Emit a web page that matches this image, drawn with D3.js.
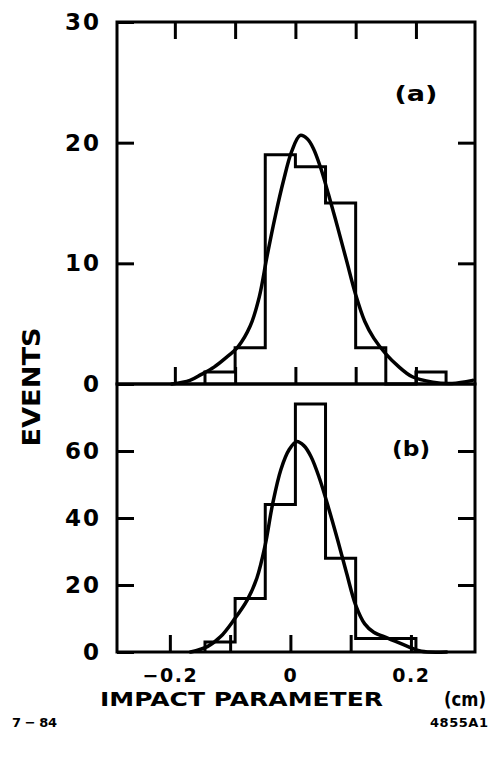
<!DOCTYPE html>
<html>
<head>
<meta charset="utf-8">
<script src="https://cdn.jsdelivr.net/npm/d3@7"></script>
<style>
	body { margin: 0; background: #fff; }
	text { font-family: "DejaVu Sans", sans-serif; font-weight: bold; fill: #000; }
</style>
</head>
<body>
<div id="container"></div>
<script>
// bin edges start at -0.15, width 0.05
var binStart = -0.15,
	binWidth = 0.05;

// histogram counts (a) and (b)
var countsA = [1, 3, 19, 18, 15, 3, 0, 1];
var countsB = [3, 16, 44, 74, 28, 4, 4];

// fitted curves [impact parameter, events]
var fitA = [
	[-0.205, 0], [-0.175, 0.3], [-0.156, 0.8], [-0.135, 1.4], [-0.117, 2.1],
	[-0.095, 3.1], [-0.075, 4.8], [-0.06, 7.2], [-0.047, 10.6], [-0.033, 14.0],
	[-0.02, 16.8], [-0.006, 19.3], [0.008, 20.6], [0.02, 20.3], [0.03, 19.5],
	[0.042, 17.9], [0.055, 15.7], [0.07, 13.0], [0.085, 10.2], [0.1, 7.4],
	[0.115, 5.2], [0.13, 3.8], [0.15, 2.5], [0.17, 1.5], [0.194, 0.6],
	[0.228, 0.15], [0.26, 0.05], [0.294, 0.3]
];
var fitB = [
	[-0.174, 0], [-0.146, 1.6], [-0.124, 4.6], [-0.102, 9.6], [-0.08, 15.5],
	[-0.064, 22], [-0.05, 32], [-0.038, 44], [-0.024, 54.5], [-0.01, 60.5],
	[0.002, 62.8], [0.014, 61.6], [0.026, 58.3], [0.04, 51.8], [0.055, 43],
	[0.07, 33.5], [0.085, 23.5], [0.1, 14], [0.115, 8.4], [0.13, 5.9],
	[0.154, 4.1], [0.187, 1.6], [0.209, 0.2], [0.251, 0]
];

// ticks
var xTicks = [-0.2, -0.1, 0, 0.1, 0.2];
var xLabels = [-0.2, 0, 0.2];
var yTicksA = [0, 10, 20, 30];
var yTicksB = [0, 20, 40, 60];

function render(){
	var svg = d3.select("#container")
		.append("svg")
		.attr("width", 493)
		.attr("height", 778);

	// scales
	var x = d3.scaleLinear().domain([-0.296, 0.298]).range([117, 475]);
	var xB = x.copy().range([112, 470]); // lower axis sits a bit to the left in the scan
	var yA = d3.scaleLinear().domain([0, 30]).range([384, 22]);
	var yB = d3.scaleLinear().domain([0, 80]).range([652, 384]);

	var fmt = function(d) { return d === 0 ? "0" : d3.format(".1f")(d); };

	function histo(counts){
		var pts = [[binStart, 0]];
		counts.forEach(function(c, i) { pts.push([binStart + i * binWidth, c]); });
		pts.push([binStart + counts.length * binWidth, counts[counts.length - 1]]);
		pts.push([binStart + counts.length * binWidth, 0]);
		return pts;
	}

	function panel(y, counts, fit, yTicks, innerTicks){
		var g = svg.append("g");

		// frame
		g.append("rect")
			.attr("x", x.range()[0])
			.attr("y", y.range()[1])
			.attr("width", x.range()[1] - x.range()[0])
			.attr("height", y.range()[0] - y.range()[1])
			.attr("fill", "none")
			.attr("stroke", "#000")
			.attr("stroke-width", 3);

		// y axis left (ticks inward, labels outside)
		g.append("g")
			.attr("class", "yAxis")
			.attr("transform", "translate(" + x.range()[0] + ",0)")
			.call(d3.axisLeft(y).tickValues(yTicks).tickSize(-17).tickPadding(16).tickFormat(d3.format("d")));

		// y axis right
		g.append("g")
			.attr("transform", "translate(" + x.range()[1] + ",0)")
			.call(d3.axisRight(y).tickValues(innerTicks).tickSize(-17).tickFormat(""));

		// histogram
		var step = d3.line()
			.curve(d3.curveStepAfter)
			.x(function(d) { return x(d[0]); })
			.y(function(d) { return y(d[1]); });

		g.append("path")
			.datum(histo(counts))
			.attr("d", step)
			.attr("fill", "none")
			.attr("stroke", "#000")
			.attr("stroke-width", 3)
			.attr("stroke-linejoin", "miter");

		// fit
		var line = d3.line()
			.curve(d3.curveCatmullRom)
			.x(function(d) { return x(d[0]); })
			.y(function(d) { return y(Math.max(0, d[1])); });

		g.append("path")
			.datum(fit)
			.attr("d", line)
			.attr("fill", "none")
			.attr("stroke", "#000")
			.attr("stroke-width", 3.5)
			.attr("stroke-linecap", "round");

		return g;
	}

	var gA = panel(yA, countsA, fitA, yTicksA, [10, 20]);
	var gB = panel(yB, countsB, fitB, yTicksB, [20, 40, 60]);

	// x ticks on panel (a): top and bottom, inward
	gA.append("g")
		.attr("transform", "translate(0," + yA(30) + ")")
		.call(d3.axisTop(x).tickValues(xTicks).tickSize(-17).tickFormat(""));
	gA.append("g")
		.attr("transform", "translate(0," + yA(0) + ")")
		.call(d3.axisBottom(x).tickValues(xTicks).tickSize(-17).tickFormat(""));

	// x ticks on panel (b) bottom
	gB.append("g")
		.attr("transform", "translate(0," + yB(0) + ")")
		.call(d3.axisBottom(xB).tickValues(xTicks).tickSize(-17).tickFormat(""));
	gB.append("g")
		.attr("class", "xAxis")
		.attr("transform", "translate(0," + yB(0) + ")")
		.call(d3.axisBottom(xB).tickValues(xLabels).tickSize(0).tickPadding(17).tickFormat(fmt));

	// axis styling
	svg.selectAll(".domain").remove();
	svg.selectAll(".tick line").attr("stroke", "#000").attr("stroke-width", 3);
	svg.selectAll(".tick text")
		.attr("fill", "#000")
		.attr("font-family", "DejaVu Sans")
		.attr("font-weight", "bold");
	svg.selectAll(".yAxis .tick text")
		.attr("font-size", 23)
		.attr("letter-spacing", 2);
	svg.selectAll(".xAxis .tick text")
		.attr("font-size", 19)
		.attr("letter-spacing", 1.5);

	// panel labels
	svg.append("text")
		.attr("x", x(0.2)).attr("y", yA(24.1))
		.attr("text-anchor", "middle").attr("dominant-baseline", "central")
		.attr("font-size", 22).attr("textLength", 43).attr("lengthAdjust", "spacingAndGlyphs")
		.text("(a)");
	svg.append("text")
		.attr("x", x(0.192)).attr("y", yB(60.6))
		.attr("text-anchor", "middle").attr("dominant-baseline", "central")
		.attr("font-size", 22).attr("textLength", 38).attr("lengthAdjust", "spacingAndGlyphs")
		.text("(b)");

	// axis titles
	svg.append("text")
		.attr("transform", "translate(40,387) rotate(-90)")
		.attr("text-anchor", "middle")
		.attr("font-size", 25).attr("textLength", 119).attr("lengthAdjust", "spacingAndGlyphs")
		.text("EVENTS");
	svg.append("text")
		.attr("x", 100).attr("y", 706)
		.attr("font-size", 19).attr("textLength", 283).attr("lengthAdjust", "spacingAndGlyphs")
		.text("IMPACT PARAMETER");
	svg.append("text")
		.attr("x", 444).attr("y", 706)
		.attr("font-size", 19).attr("textLength", 42).attr("lengthAdjust", "spacingAndGlyphs")
		.text("(cm)");

	// footer
	svg.append("text")
		.attr("x", 12).attr("y", 727)
		.attr("font-size", 13).attr("textLength", 45).attr("lengthAdjust", "spacing")
		.text("7 \u2212 84");
	svg.append("text")
		.attr("x", 430).attr("y", 727)
		.attr("font-size", 13).attr("textLength", 58).attr("lengthAdjust", "spacing")
		.text("4855A1");
}
render();
</script>
</body>
</html>
